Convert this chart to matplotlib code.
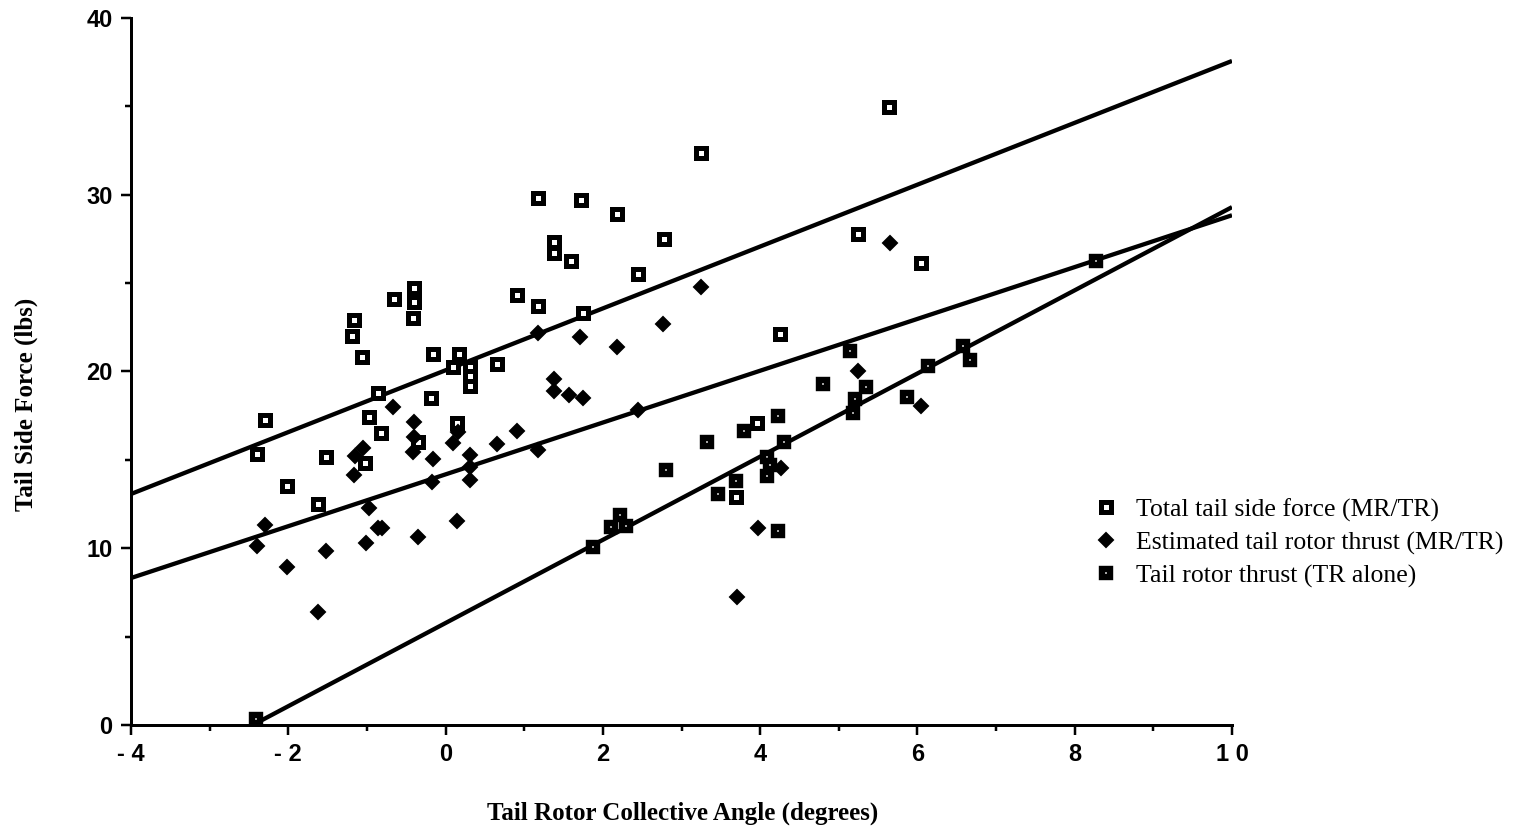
import matplotlib
matplotlib.use("Agg")
import matplotlib.pyplot as plt
from matplotlib.lines import Line2D
from matplotlib.ticker import MultipleLocator, FixedLocator
import numpy as np

# Total tail side force (MR/TR)
total_x = [-2.40, -2.29, -2.01, -1.62, -1.52, -1.19, -1.16, -1.06, -0.98, -1.02,
           -0.86, -0.82, -0.66, -0.42, -0.40, -0.40, -0.35, -0.19, -0.16, 0.09,
           0.17, 0.15, 0.31, 0.31, 0.31, 0.65, 0.91, 1.18, 1.18, 1.38,
           1.38, 1.59, 1.72, 1.75, 2.18, 2.45, 2.78, 3.25, 3.69, 3.96,
           4.25, 5.25, 5.64, 6.04]
total_y = [15.33, 17.26, 13.52, 12.50, 15.16, 22.00, 22.91, 20.82, 17.43, 14.82,
           18.78, 16.52, 24.10, 23.03, 24.72, 23.95, 16.00, 18.50, 20.99, 20.25,
           20.99, 17.06, 20.25, 19.75, 19.18, 20.42, 24.30, 29.80, 23.70, 27.33,
           26.70, 26.25, 29.70, 23.30, 28.91, 25.52, 27.50, 32.36, 12.90, 17.09,
           22.10, 27.78, 34.96, 26.14]

# Estimated tail rotor thrust (MR/TR)
est_x = [-2.40, -2.30, -2.01, -1.62, -1.52, -1.17, -1.15, -1.05, -0.98, -1.01,
         -0.86, -0.81, -0.67, -0.40, -0.40, -0.42, -0.35, -0.17, -0.16, 0.09,
         0.16, 0.15, 0.31, 0.31, 0.31, 0.65, 0.91, 1.18, 1.18, 1.38,
         1.38, 1.57, 1.71, 1.75, 2.18, 2.45, 2.77, 3.25, 3.70, 3.97,
         4.26, 5.24, 5.65, 6.04]
est_y = [10.13, 11.32, 8.94, 6.39, 9.84, 14.14, 15.22, 15.67, 12.28, 10.30,
         11.15, 11.15, 17.99, 17.14, 16.29, 15.45, 10.64, 13.75, 15.05, 15.96,
         16.58, 11.54, 15.28, 14.60, 13.86, 15.87, 16.63, 22.20, 15.56, 19.58,
         18.90, 18.67, 21.95, 18.50, 21.40, 17.82, 22.70, 24.78, 7.27, 11.15,
         14.55, 20.03, 27.27, 18.07]

# Tail rotor thrust (TR alone)
tr_x = [-2.41, 1.87, 2.10, 2.22, 2.30, 2.80, 3.32, 3.46, 3.69, 3.79,
        4.09, 4.12, 4.09, 4.23, 4.30, 4.23, 4.80, 5.14, 5.20, 5.18,
        5.34, 5.87, 6.14, 6.58, 6.67, 8.27]
tr_y = [0.34, 10.07, 11.20, 11.88, 11.26, 14.43, 16.01, 13.07, 13.80, 16.63,
        15.16, 14.70, 14.09, 17.48, 16.00, 10.98, 19.29, 21.16, 18.44, 17.65,
        19.12, 18.56, 20.31, 21.44, 20.65, 26.25]

# Linear fits (slope, intercept)
fit_total = (1.75, 20.07)
fit_est = (1.466, 14.18)
fit_tr = (2.353, 5.77)

legend_labels = ["Total tail side force (MR/TR)",
                 "Estimated tail rotor thrust (MR/TR)",
                 "Tail rotor thrust (TR alone)"]
x_ticks = [-4, -2, 0, 2, 4, 6, 8, 10]
x_tick_labels = ["- 4", "- 2", "0", "2", "4", "6", "8", "1 0"]
y_ticks = [0, 10, 20, 30, 40]

W, H, DPI = 1533, 830, 100
fig = plt.figure(figsize=(W / DPI, H / DPI), dpi=DPI)
ax = fig.add_axes([131 / W, 1 - 725 / H, (1232 - 131) / W, (725 - 18) / H])
ax.set_xlim(-4, 10)
ax.set_ylim(0, 40)

px = 72.0 / DPI  # points per pixel

# regression lines
lw_line = 4.3 * px
for (m, b), x0 in [(fit_total, -4), (fit_est, -4), (fit_tr, -fit_tr[1] / fit_tr[0])]:
    xs = np.array([x0, 10.0])
    ax.plot(xs, m * xs + b, color="black", lw=lw_line, solid_capstyle="butt", zorder=2)

total_style = dict(marker="s", ls="none", mfc="white", mec="black",
                   ms=10.0 * px, mew=5.0 * px)
est_style = dict(marker="D", ls="none", mfc="black", mec="black",
                 ms=10.0 * px, mew=2.0 * px)
tr_style = dict(marker="s", ls="none", mfc="white", mec="black",
                ms=8.8 * px, mew=6.4 * px)

ax.plot(total_x, total_y, zorder=3, clip_on=False, **total_style)
ax.plot(est_x, est_y, zorder=3, clip_on=False, **est_style)
ax.plot(tr_x, tr_y, zorder=3, clip_on=False, **tr_style)

# axes styling
for s in ["top", "right"]:
    ax.spines[s].set_visible(False)
for s in ["left", "bottom"]:
    ax.spines[s].set_linewidth(3 * px)

ax.xaxis.set_major_locator(FixedLocator(x_ticks))
ax.xaxis.set_minor_locator(MultipleLocator(1))
ax.yaxis.set_major_locator(FixedLocator(y_ticks))
ax.yaxis.set_minor_locator(MultipleLocator(5))
ax.set_xticklabels(x_tick_labels)
ax.tick_params(axis="both", which="major", direction="out", length=10 * px,
               width=2.5 * px, labelsize=17, pad=6)
ax.tick_params(axis="both", which="minor", direction="out", length=6 * px,
               width=2.5 * px)
for lab in ax.get_xticklabels() + ax.get_yticklabels():
    lab.set_fontfamily("Liberation Sans")
    lab.set_fontweight("bold")

fig.text(683 / W, 1 - 813 / H, "Tail Rotor Collective Angle (degrees)",
         ha="center", va="center", fontsize=18, fontweight="bold",
         family="Liberation Serif")
fig.text(26 / W, 1 - 404 / H, "Tail Side Force (lbs)", rotation=90,
         ha="center", va="center", fontsize=18, fontweight="bold",
         family="Liberation Serif")

handles = [Line2D([], [], **total_style), Line2D([], [], **est_style),
           Line2D([], [], **tr_style)]
ax.legend(handles, legend_labels, loc="center left",
          bbox_to_anchor=(1094 / W, 1 - 543 / H), bbox_transform=fig.transFigure,
          frameon=False, borderpad=0, borderaxespad=0, handlelength=0.9,
          handletextpad=0.75, labelspacing=0.38,
          prop=dict(family="Liberation Serif", size=18.5))

fig.savefig("out.png", dpi=DPI)
